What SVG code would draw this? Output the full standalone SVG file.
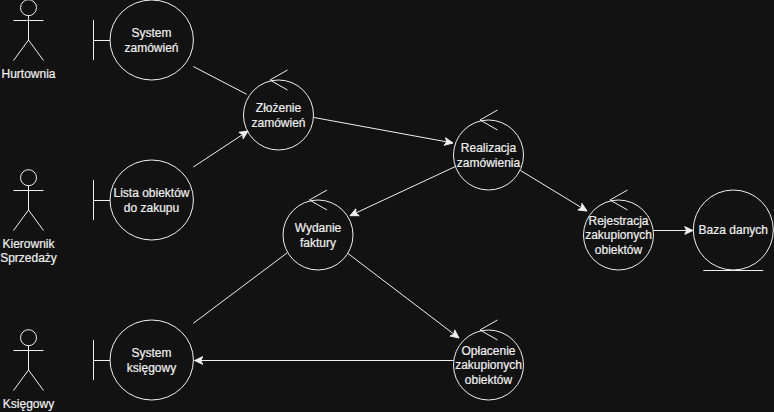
<svg xmlns="http://www.w3.org/2000/svg" width="774" height="412" viewBox="0 0 774 412">
<style>
.s{fill:none;stroke:#f0f0f0;stroke-width:1}
.t{fill:#f0f0f0;stroke:#f0f0f0;stroke-width:0.2px;font-family:"Liberation Sans",Arial,sans-serif;font-size:12px;text-anchor:middle}
</style>
<defs>
<marker id="arrow" markerUnits="userSpaceOnUse" markerWidth="10" markerHeight="10" refX="8" refY="4.5" orient="auto" viewBox="0 0 9 9">
<path d="M0.5 1L8 4.5L0.5 8L2.300 4.500Z" fill="#f0f0f0" stroke="#f0f0f0" stroke-width="0.8"/>
</marker>
<g id="actor" class="s">
<circle cx="28.500" cy="7.700" r="8"/>
<path d="M28.500 15.700V40M13.500 20.500H43.500M13.500 60.500L28.500 40L43.500 60.500"/>
</g>
<g id="boundary" class="s">
<path d="M93.500 -20V20M93.500 0.500H110"/>
<ellipse cx="151.700" cy="0" rx="41.700" ry="40"/>
</g>
<g id="control" class="s">
<circle cx="0" cy="0" r="35"/>
<path d="M9 -45L-8.500 -35L9 -25"/>
</g>
</defs>
<rect width="774" height="412" fill="#121212"/>
<g id="connectors" class="s">
<path d="M193.300 66.500L246.700 94.300"/>
<path d="M193.300 167L248 131" marker-end="url(#arrow)"/>
<path d="M314 117.500L453 143" marker-end="url(#arrow)"/>
<path d="M455 166.700L350 215.700" marker-end="url(#arrow)"/>
<path d="M520.500 170.500L587 211" marker-end="url(#arrow)"/>
<path d="M653.500 230.500H693" marker-end="url(#arrow)"/>
<path d="M348 253.500L459 338" marker-end="url(#arrow)"/>
<path d="M453.500 360.500H194.500" marker-end="url(#arrow)"/>
<path d="M193.300 323.300L287 253"/>
</g>
<g id="hurtownia"><use href="#actor"/><text class="t" x="28.500" y="78">Hurtownia</text></g>
<g id="kierownik"><use href="#actor" y="170"/><text class="t" x="28.500" y="248">Kierownik</text><text class="t" x="28.500" y="262">Sprzedaży</text></g>
<g id="ksiegowy"><use href="#actor" y="330"/><text class="t" x="28.500" y="408">Księgowy</text></g>
<g id="system-zamowien"><use href="#boundary" y="40"/><text class="t" x="151.500" y="37">System</text><text class="t" x="151.500" y="52">zamówień</text></g>
<g id="lista"><use href="#boundary" y="200"/><text class="t" x="151.500" y="197">Lista obiektów</text><text class="t" x="151.500" y="212">do zakupu</text></g>
<g id="system-ksiegowy"><use href="#boundary" y="360"/><text class="t" x="151.500" y="357">System</text><text class="t" x="151.500" y="372">księgowy</text></g>
<g id="zlozenie"><use href="#control" x="278.500" y="115"/><text class="t" x="278.500" y="112">Złożenie</text><text class="t" x="278.500" y="127">zamówień</text></g>
<g id="realizacja"><use href="#control" x="488.500" y="155"/><text class="t" x="488.500" y="152">Realizacja</text><text class="t" x="488.500" y="167">zamówienia</text></g>
<g id="wydanie"><use href="#control" x="318" y="235"/><text class="t" x="318" y="232">Wydanie</text><text class="t" x="318" y="247">faktury</text></g>
<g id="rejestracja"><use href="#control" x="618.500" y="235"/><text class="t" x="618.500" y="225">Rejestracja</text><text class="t" x="618.500" y="239">zakupionych</text><text class="t" x="618.500" y="254">obiektów</text></g>
<g id="oplacenie"><use href="#control" x="488.500" y="365"/><text class="t" x="488.500" y="355">Opłacenie</text><text class="t" x="488.500" y="369">zakupionych</text><text class="t" x="488.500" y="384">obiektów</text></g>
<g id="baza"><circle class="s" cx="733.300" cy="230" r="40"/><path class="s" d="M703.300 270.500H763.300"/><text class="t" x="733.300" y="234">Baza danych</text></g>
</svg>
